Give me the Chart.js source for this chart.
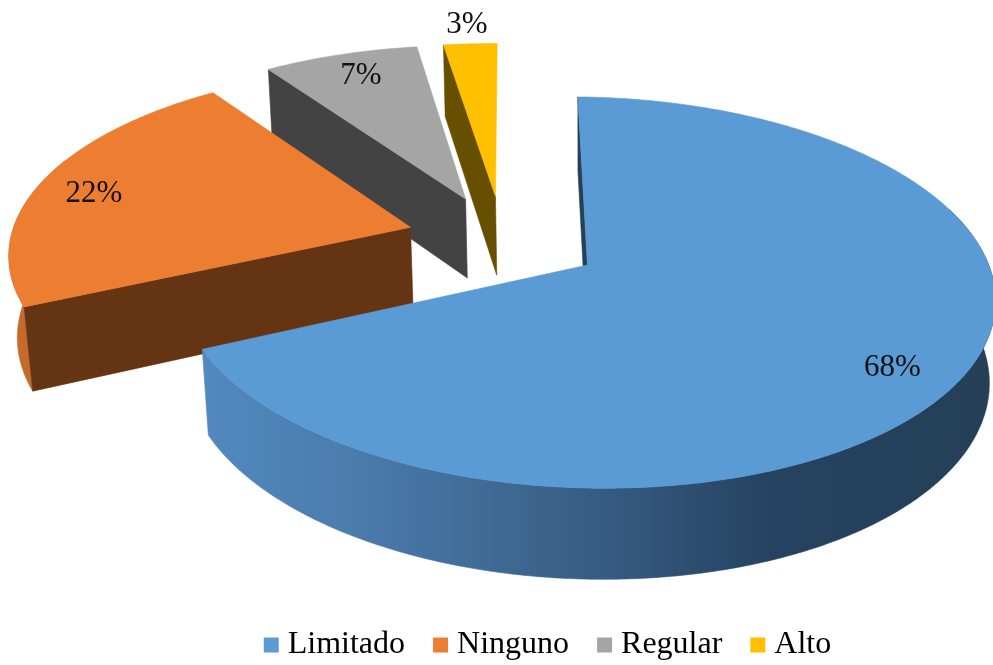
<!DOCTYPE html>
<html>
<head>
<meta charset="utf-8">
<style>html,body{margin:0;padding:0;background:#fff}#w{width:993px;height:665px;position:relative}</style>
<script src="https://cdn.jsdelivr.net/npm/chart.js@4"></script>
</head>
<body>
<div id="w"><canvas id="c"></canvas></div>
<script>
const categories = ['Limitado', 'Ninguno', 'Regular', 'Alto'];
const values = [68, 22, 7, 3];
const topColors = ['#5B9BD5', '#ED7D31', '#A5A5A5', '#FFC000'];
const wallColors = ['#254057', '#653413', '#434343', '#665000'];
const rimColors = ['#254057', '#C56A2B', '#434343', '#665000'];

// camera used to lay the flat pie down, in unit-disk coordinates
const CX = 585, CY = 265, SX = 404, SY = 191.6, DEPTH = 83, PK = 0.1407, PM = 0.015, SHEAR = 8;
// how far each slice is pulled out, its drawn edge nudges (deg), and where its label sits
const pullU = [0.006, -0.443, -0.31, -0.233];
const pullV = [0, -0.183, -0.348, -0.367];
const startNudge = [0, 0, 0.6, 1.7];
const endNudge = [0, 0.3, 1.7, 0];
const labelRadius = [0.848, 0.845, 0.835, 1.14];
const labelTurn = [2.9, -2.3, 1.5, 0.8];
const FONT = '"Liberation Serif"';
const RAD = Math.PI / 180;

function project(u, v, z) {
  const w = 1 - PK * v + PM * z;
  return [CX + SX * u / w, CY + (SY * v + DEPTH * z + SHEAR * u) / w];
}
function poly(ctx, pts, fill) {
  ctx.beginPath();
  pts.forEach((p, i) => i ? ctx.lineTo(p[0], p[1]) : ctx.moveTo(p[0], p[1]));
  ctx.closePath();
  ctx.fillStyle = fill;
  ctx.fill();
  ctx.strokeStyle = fill;
  ctx.lineWidth = 0.6;
  ctx.stroke();
}
function rimPoint(i, a, z) {
  return project(pullU[i] + Math.cos(a), pullV[i] + Math.sin(a), z);
}
function samples(a0, a1) {
  const n = Math.max(4, Math.ceil((a1 - a0) / 0.01));
  const out = [];
  for (let k = 0; k <= n; k++) out.push(a0 + (a1 - a0) * k / n);
  return out;
}
const slices3d = {
  id: 'slices3d',
  beforeDatasetDraw(chart, args) {
    const ctx = chart.ctx;
    const arcs = chart.getDatasetMeta(args.index).data;
    ctx.save();
    for (const i of [3, 2, 1, 0]) {
      const a0 = arcs[i].startAngle + startNudge[i] * RAD, a1 = arcs[i].endAngle + endNudge[i] * RAD;
      const c0 = project(pullU[i], pullV[i], 0), c1 = project(pullU[i], pullV[i], 1);
      const as = samples(a0, a1);
      // outer rim: only the part that faces the camera
      const front = as.filter(a => Math.sin(a) > -0.35);
      if (front.length > 1) {
        let rimFill = rimColors[i];
        if (i === 0) {
          const g = ctx.createLinearGradient(203, 0, 993, 0);
          g.addColorStop(0, '#5289BE');
          g.addColorStop(0.2, '#4A7BAB');
          g.addColorStop(0.5, '#375C83');
          g.addColorStop(0.72, '#264260');
          g.addColorStop(1, '#243F56');
          rimFill = g;
        }
        poly(ctx, front.map(a => rimPoint(i, a, 0)).concat(front.slice().reverse().map(a => rimPoint(i, a, 1))), rimFill);
      }
      // the one cut face that looks at the camera
      poly(ctx, [c0, rimPoint(i, a0, 0), rimPoint(i, a0, 1), c1], wallColors[i]);
      // top face
      poly(ctx, [c0].concat(as.map(a => rimPoint(i, a, 0))), topColors[i]);
    }
    ctx.restore();
    return false;
  },
  afterDatasetsDraw(chart) {
    const ctx = chart.ctx;
    const arcs = chart.getDatasetMeta(0).data;
    ctx.save();
    ctx.font = '31px ' + FONT;
    ctx.fillStyle = '#111';
    ctx.textAlign = 'center';
    ctx.textBaseline = 'middle';
    arcs.forEach((arc, i) => {
      const mid = (arc.startAngle + arc.endAngle) / 2 + labelTurn[i] * RAD;
      const p = project(pullU[i] + labelRadius[i] * Math.cos(mid), pullV[i] + labelRadius[i] * Math.sin(mid), 0);
      ctx.fillText(values[i] + '%', p[0], p[1]);
    });
    ctx.restore();
  }
};
new Chart(document.getElementById('c'), {
  type: 'pie',
  data: { labels: categories, datasets: [{ data: values, backgroundColor: topColors, borderWidth: 0 }] },
  plugins: [slices3d],
  options: {
    responsive: true,
    maintainAspectRatio: false,
    animation: false,
    rotation: -1.5,
    layout: { padding: { left: 109, right: 0, top: 0, bottom: -6 } },
    plugins: {
      tooltip: { enabled: false },
      legend: {
        position: 'bottom',
        labels: {
          color: '#111',
          font: { family: FONT, size: 32 },
          boxWidth: 1,
          boxHeight: 1,
          padding: 35,
          generateLabels: () => categories.map((t, i) => ({
            text: t, fillStyle: topColors[i], strokeStyle: topColors[i], lineWidth: 14, hidden: false, index: i
          }))
        }
      }
    }
  }
});
</script>
</body>
</html>
